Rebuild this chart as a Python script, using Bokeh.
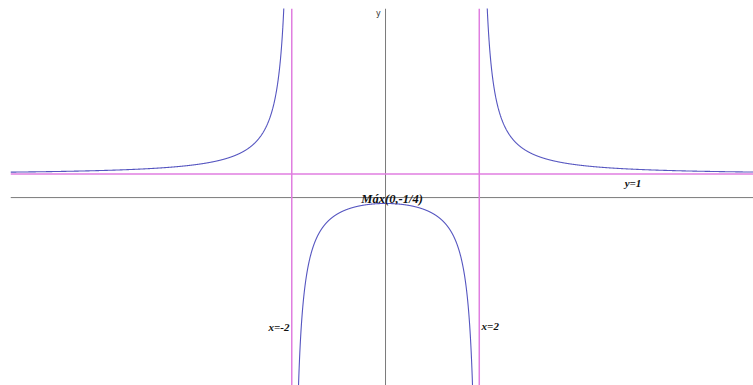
import numpy as np
from bokeh.plotting import figure
from bokeh.models import ColumnDataSource, Range1d
from bokeh.core.properties import value
from bokeh.embed import file_html
from bokeh.resources import INLINE

# f(x) = (x^2 + 1) / (x^2 - 4)
num_coeffs = [1, 0, 1]
den_coeffs = [1, 0, -4]
asymptotes_x = [-2, 2]
asymptote_y = [1]
label_texts = ["Máx(0,-1/4)", "y=1", "x=-2", "x=2"]
label_x = [0.14, 5.28, -2.05, 2.05]
label_y = [-0.04, 0.64, -5.53, -5.48]
label_align = ["center", "center", "right", "left"]
label_size = ["12.5px", "11px", "11px", "11px"]

X_MIN, X_MAX = -8.0, 7.85
Y_MIN, Y_MAX = -8.0, 8.05


def f(x):
    return np.polyval(num_coeffs, x) / np.polyval(den_coeffs, x)


p = figure(width=753, height=385, output_backend="svg", toolbar_location=None,
           x_range=Range1d(X_MIN, X_MAX), y_range=Range1d(Y_MIN, Y_MAX),
           min_border_left=10, min_border_right=0, min_border_top=8, min_border_bottom=0)
p.axis.visible = False
p.grid.visible = False
p.outline_line_color = None
p.background_fill_color = "white"

# axes
p.line([X_MIN, X_MAX], [0, 0], line_color="#7a7a7a", line_width=1)
p.line([0, 0], [Y_MIN, Y_MAX], line_color="#7a7a7a", line_width=1)

# asymptotes
for a in asymptotes_x:
    p.line([a, a], [Y_MIN, Y_MAX], line_color="#e07ee0", line_width=1.5)
for a in asymptote_y:
    p.line([X_MIN, X_MAX], [a, a], line_color="#e07ee0", line_width=1.5)

# branches
eps = 1e-3
segments = [(X_MIN, asymptotes_x[0] - eps), (asymptotes_x[0] + eps, asymptotes_x[1] - eps),
            (asymptotes_x[1] + eps, X_MAX)]
for a, b in segments:
    xs = np.linspace(a, b, 3000)
    ys = f(xs)
    ys = np.clip(ys, Y_MIN - 2, Y_MAX + 2)
    p.line(xs, ys, line_color="#5555c0", line_width=1.1)

src = ColumnDataSource(dict(x=label_x, y=label_y, t=label_texts, a=label_align, s=label_size))
p.text(x="x", y="y", text="t", text_align="a", text_baseline="middle", source=src,
       text_font=value("Liberation Serif"), text_font_style="bold italic",
       text_font_size="s", text_color="#111111")

p.text(x=[-0.15], y=[7.82], text=["y"], text_align="center", text_baseline="middle",
       text_font=value("DejaVu Sans"), text_font_size="8px", text_color="#333333")

open("out.html", "w").write(file_html(p, INLINE))
